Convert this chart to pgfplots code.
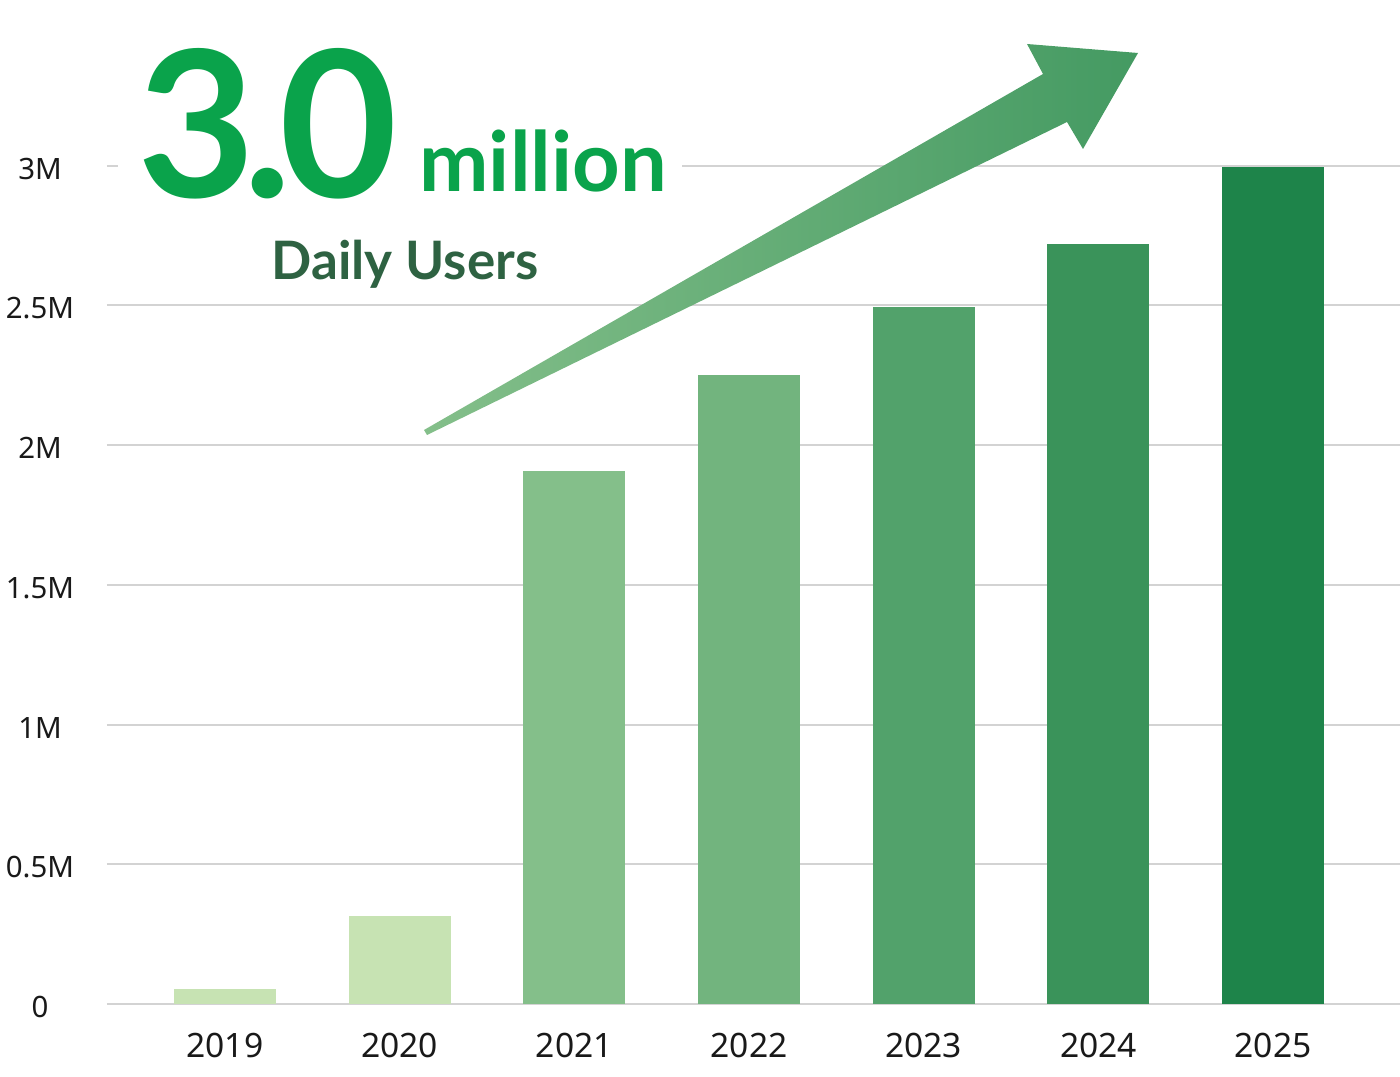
\documentclass[border=0pt]{standalone}
\usepackage{pgfplots}
\pgfplotsset{compat=1.18}
\usepackage{fontspec}
\setmainfont{Noto Sans}
\newfontfamily\lato{Lato}
\definecolor{cA}{HTML}{C7E3B3}
\definecolor{cB}{HTML}{84BF8A}
\definecolor{cC}{HTML}{72B47E}
\definecolor{cD}{HTML}{52A26B}
\definecolor{cE}{HTML}{3A935A}
\definecolor{cF}{HTML}{1E844A}
\definecolor{bigg}{HTML}{0AA34B}
\definecolor{dark}{HTML}{2E6242}
\definecolor{gridc}{HTML}{D3D3D3}
\definecolor{arrA}{HTML}{84BF8A}
\definecolor{arrB}{HTML}{449A62}
\begin{document}
\begin{tikzpicture}
\begin{axis}[
  at={(0,0)}, anchor=south west,
  scale only axis, width=646.5pt, height=501pt,
  xmin=-0.675, xmax=6.726, ymin=0, ymax=3.5857,
  axis line style={draw=none}, tick style={draw=none},
  ybar, bar width=51pt, bar shift=0pt,
  xtick={0,1,2,3,4,5,6},
  xticklabels={2019,2020,2021,2022,2023,2024,2025},
  ytick={0,0.5,1,1.5,2,2.5,3},
  yticklabels={0,0.5M,1M,1.5M,2M,2.5M,3M},
  ymajorgrids, grid style={gridc, line width=1pt},
  xticklabel style={font=\fontsize{16.8}{18}\selectfont, anchor=base, yshift=-22.5pt, text=black!90},
  yticklabel style={font=\fontsize{14.7}{16}\selectfont, anchor=center, xshift=-33.5pt, yshift=-1.5pt, text=black!90},
  clip=false,
]
\addplot[fill=cA, draw=none] coordinates {(0,0.054)};
\addplot[fill=cA, draw=none] coordinates {(1,0.314)};
\addplot[fill=cB, draw=none] coordinates {(2,1.907)};
\addplot[fill=cC, draw=none] coordinates {(3,2.25)};
\addplot[fill=cD, draw=none] coordinates {(4,2.493)};
\addplot[fill=cE, draw=none] coordinates {(5,2.72)};
\addplot[fill=cF, draw=none] coordinates {(6,2.995)};
\end{axis}
\fill[white] (5.5pt,408pt) rectangle (287.5pt,426pt);
\shade[left color=arrA, right color=arrB]
  (158.5pt,287pt) -- (468pt,465pt) -- (460pt,480pt) -- (515.5pt,475.5pt)
  -- (488pt,427.5pt) -- (480pt,441pt) -- (160pt,284.5pt) -- cycle;
\node[anchor=base west, inner sep=0pt, text=bigg] at (15pt,403pt)
  {\lato\bfseries\fontsize{102}{102}\selectfont 3\kern-0.06em.\kern-0.06em0};
\node[anchor=base west, inner sep=0pt, text=bigg] at (156pt,406pt)
  {\lato\bfseries\fontsize{41.5}{41.5}\selectfont million};
\node[anchor=base west, inner sep=0pt, text=dark] at (82pt,362pt)
  {\lato\bfseries\fontsize{26.5}{26.5}\selectfont Daily Users};
\pgfresetboundingbox
\path[use as bounding box] (-53.5pt,-36pt) rectangle (646.5pt,502pt);
\end{tikzpicture}
\end{document}
